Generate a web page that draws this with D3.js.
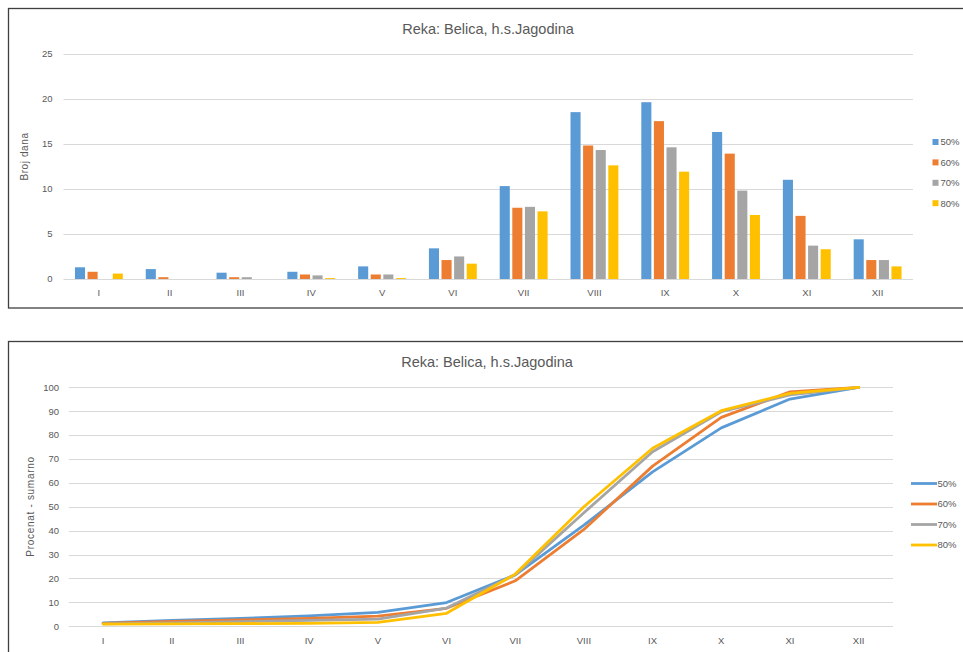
<!DOCTYPE html>
<html>
<head>
<meta charset="utf-8">
<script src="https://cdn.jsdelivr.net/npm/d3@7"></script>
<style>
  html, body { margin: 0; padding: 0; background: #fff; }
  svg text { font-family: "Liberation Sans", Arial, sans-serif; fill: #595959; }
</style>
</head>
<body>
<svg id="chart" width="963" height="652"></svg>
<script>
// ---- data ----
const months = ["I","II","III","IV","V","VI","VII","VIII","IX","X","XI","XII"];
const seriesNames = ["50%","60%","70%","80%"];
const colors = ["#5B9BD5","#ED7D31","#A5A5A5","#FFC000"];
const title = "Reka: Belica, h.s.Jagodina";

// Broj dana (top chart)
const days50 = [1.3, 1.1, 0.7, 0.8, 1.4, 3.4, 10.3, 18.5, 19.6, 16.3, 11.0, 4.4];
const days60 = [0.8, 0.2, 0.2, 0.5, 0.5, 2.1, 7.9, 14.8, 17.5, 13.9, 7.0, 2.1];
const days70 = [0.0, 0.0, 0.2, 0.4, 0.5, 2.5, 8.0, 14.3, 14.6, 9.8, 3.7, 2.1];
const days80 = [0.6, 0.0, 0.0, 0.1, 0.1, 1.7, 7.5, 12.6, 11.9, 7.1, 3.3, 1.4];

// Procenat - sumarno (bottom chart)
const cum50 = [1.4, 2.4, 3.3, 4.3, 5.8, 9.9, 21.5, 42.3, 64.6, 83.0, 95.1, 100];
const cum60 = [1.2, 2.0, 2.6, 3.3, 4.2, 7.5, 19.0, 40.5, 67.0, 87.4, 98.1, 100];
const cum70 = [1.0, 1.4, 1.9, 2.4, 3.0, 7.6, 21.5, 47.5, 73.0, 89.8, 96.8, 100];
const cum80 = [0.9, 1.0, 1.1, 1.2, 1.6, 5.4, 21.8, 50.0, 74.5, 90.2, 97.5, 100];

const daysTicks = [0, 5, 10, 15, 20, 25];
const cumTicks = [0, 10, 20, 30, 40, 50, 60, 70, 80, 90, 100];

const daysSeries = [days50, days60, days70, days80];
const cumSeries = [cum50, cum60, cum70, cum80];

const svg = d3.select("#chart");
const gridColor = "#d9d9d9";

// ---- frames ----
svg.append("rect").attr("x", 8.5).attr("y", 8.5).attr("width", 980).attr("height", 299.5)
  .attr("fill", "#fff").attr("stroke", "#3f3f3f").attr("stroke-width", 1.3);
svg.append("rect").attr("x", 8.5).attr("y", 341.5).attr("width", 980).attr("height", 340)
  .attr("fill", "#fff").attr("stroke", "#3f3f3f").attr("stroke-width", 1.3);

// ================= TOP: bar chart =================
{
  const g = svg.append("g");
  const x0 = d3.scaleBand().domain(months).range([63.5, 913]).padding(0);
  const x1 = d3.scaleBand().domain(seriesNames).range([0, x0.bandwidth()])
    .paddingInner(0.2).paddingOuter(0.91);
  const y = d3.scaleLinear().domain([0, 25]).range([279, 53.5]);

  g.append("g").selectAll("line").data(daysTicks).join("line")
    .attr("x1", 63.5).attr("x2", 913)
    .attr("y1", d => Math.round(y(d)) + 0.5).attr("y2", d => Math.round(y(d)) + 0.5)
    .attr("stroke", gridColor).attr("stroke-width", 1.2);

  g.append("g").selectAll("text").data(daysTicks).join("text")
    .attr("x", 52.5).attr("y", d => y(d)).attr("dy", "0.35em")
    .attr("text-anchor", "end").style("font-size", "9.5px").text(d => d);

  const groups = g.append("g").selectAll("g").data(months).join("g")
    .attr("transform", m => `translate(${x0(m)},0)`);
  groups.selectAll("rect")
    .data((m, i) => seriesNames.map((s, k) => ({ s, k, v: daysSeries[k][i] })))
    .join("rect")
    .attr("x", d => x1(d.s)).attr("width", x1.bandwidth())
    .attr("y", d => y(d.v)).attr("height", d => y(0) - y(d.v))
    .attr("fill", d => colors[d.k]);

  g.append("g").selectAll("text").data(months).join("text")
    .attr("x", m => x0(m) + x0.bandwidth() / 2).attr("y", 293).attr("dy", "0.35em")
    .attr("text-anchor", "middle").style("font-size", "9.5px").text(m => m);

  svg.append("text").attr("x", 488).attr("y", 29).attr("dy", "0.35em")
    .attr("text-anchor", "middle").style("font-size", "14.5px").text(title);

  svg.append("text").attr("transform", "translate(28,156.5) rotate(-90)")
    .attr("text-anchor", "middle").style("font-size", "10px").style("letter-spacing", "0.6px")
    .text("Broj dana");

  const leg = svg.append("g").selectAll("g").data(seriesNames).join("g")
    .attr("transform", (d, i) => `translate(932.5,${142 + i * 20.4})`);
  leg.append("rect").attr("x", 0).attr("y", -3).attr("width", 6).attr("height", 6)
    .attr("fill", (d, i) => colors[i]);
  leg.append("text").attr("x", 8).attr("y", 0).attr("dy", "0.35em")
    .style("font-size", "9.5px").text(d => d);
}

// ================= BOTTOM: line chart =================
{
  const g = svg.append("g");
  const x = d3.scaleBand().domain(months).range([68.8, 893]).padding(0);
  const y = d3.scaleLinear().domain([0, 100]).range([626.2, 387.3]);
  const cx = m => x(m) + x.bandwidth() / 2;

  g.append("g").selectAll("line").data(cumTicks).join("line")
    .attr("x1", 68.8).attr("x2", 893)
    .attr("y1", d => Math.round(y(d)) + 0.5).attr("y2", d => Math.round(y(d)) + 0.5)
    .attr("stroke", gridColor).attr("stroke-width", 1.2);

  g.append("g").selectAll("text").data(cumTicks).join("text")
    .attr("x", 59).attr("y", d => y(d)).attr("dy", "0.35em")
    .attr("text-anchor", "end").style("font-size", "9.5px").text(d => d);

  const line = d3.line().x((d, i) => cx(months[i])).y(d => y(d));
  g.append("g").selectAll("path").data(cumSeries).join("path")
    .attr("d", d => line(d)).attr("fill", "none")
    .attr("stroke", (d, i) => colors[i]).attr("stroke-width", 2.8)
    .attr("stroke-linejoin", "round").attr("stroke-linecap", "round");

  g.append("g").selectAll("text").data(months).join("text")
    .attr("x", m => cx(m)).attr("y", 641).attr("dy", "0.35em")
    .attr("text-anchor", "middle").style("font-size", "9.5px").text(m => m);

  svg.append("text").attr("x", 487).attr("y", 362).attr("dy", "0.35em")
    .attr("text-anchor", "middle").style("font-size", "14.5px").text(title);

  svg.append("text").attr("transform", "translate(34,506.5) rotate(-90)")
    .attr("text-anchor", "middle").style("font-size", "10px").style("letter-spacing", "0.7px")
    .text("Procenat - sumarno");

  const leg = svg.append("g").selectAll("g").data(seriesNames).join("g")
    .attr("transform", (d, i) => `translate(911,${483.5 + i * 20.5})`);
  leg.append("line").attr("x1", 0).attr("x2", 26).attr("y1", 0).attr("y2", 0)
    .attr("stroke", (d, i) => colors[i]).attr("stroke-width", 2.8);
  leg.append("text").attr("x", 26.5).attr("y", 0).attr("dy", "0.35em")
    .style("font-size", "9.5px").text(d => d);
}
</script>
</body>
</html>
